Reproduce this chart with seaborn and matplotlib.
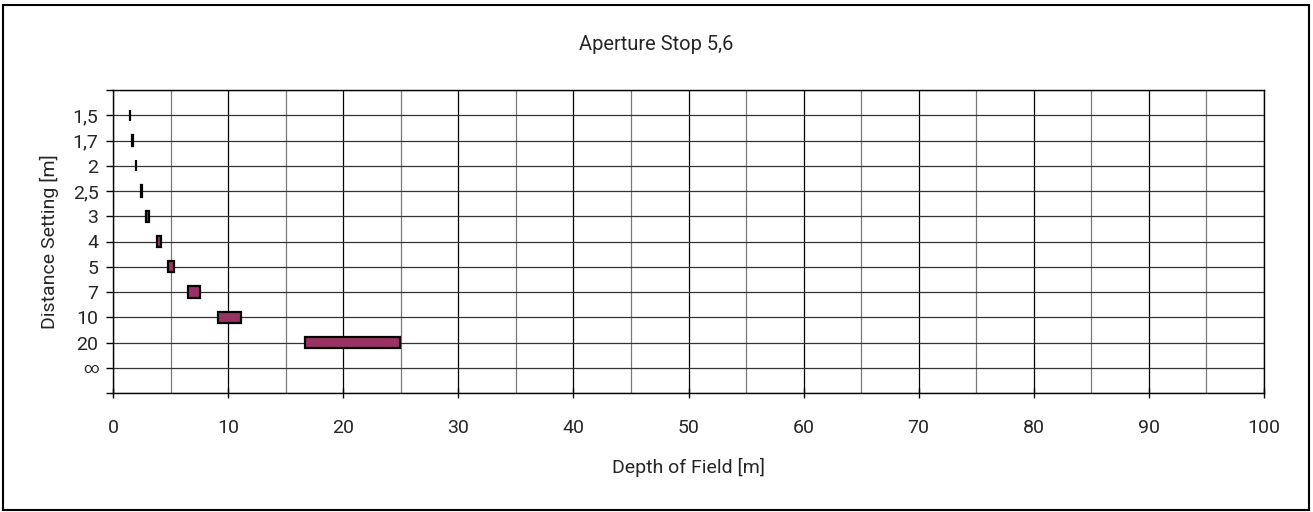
import numpy as np
import matplotlib
matplotlib.use("Agg")
import matplotlib.pyplot as plt
from matplotlib.patches import Rectangle
import seaborn as sns

sns.set_theme(style="white")
plt.rcParams["font.family"] = ["Roboto", "DejaVu Sans"]

# distance settings (row labels) and depth-of-field limits
distance_labels = ["1,5", "1,7", "2", "2,5", "3", "4", "5", "7", "10", "20", "∞"]
near_limit = [1.48, 1.67, 1.96, 2.44, 2.91, 3.85, 4.76, 6.55, 9.10, 16.7, np.nan]
far_limit = [1.52, 1.73, 2.04, 2.56, 3.09, 4.16, 5.26, 7.52, 11.10, 24.9, np.nan]

BAR_COLOR = "#993366"
FS = 14


def main():
    fig = plt.figure(figsize=(13.13, 5.12), dpi=100)
    ax = fig.add_axes([113 / 1313, 1 - 393 / 512, (1264 - 113) / 1313, (393 - 90) / 512])

    rows = np.arange(1, len(distance_labels) + 1)
    widths = np.array(far_limit) - np.array(near_limit)
    ax.barh(rows, widths, left=near_limit, height=0.44, color=BAR_COLOR,
            edgecolor="black", linewidth=1.6, zorder=3)

    ax.set_xlim(0, 100)
    ax.set_ylim(12, 0)
    ax.set_xticks(np.arange(0, 101, 10))
    ax.set_xticks(np.arange(5, 100, 10), minor=True)
    ax.set_yticks(np.arange(0, 13))
    ax.set_yticklabels([""] + distance_labels + [""])

    ax.grid(True, which="major", axis="x", color="black", linewidth=0.9, zorder=0)
    ax.grid(True, which="minor", axis="x", color="#7a7a7a", linewidth=0.9, zorder=0)
    ax.grid(True, which="major", axis="y", color="#333333", linewidth=0.9, zorder=0)

    for side in ax.spines.values():
        side.set_color("black")
        side.set_linewidth(1.0)

    ax.tick_params(axis="x", which="major", direction="inout", length=7, width=1,
                   color="black", labelsize=FS, pad=15, bottom=True)
    ax.tick_params(axis="x", which="minor", length=0)
    ax.tick_params(axis="y", direction="out", length=5, width=1, color="black",
                   labelsize=FS, pad=5.5, left=True)
    # the infinity sign is drawn smaller in the original
    ax.get_yticklabels()[11].set_fontsize(11)

    ax.set_xlabel("Depth of Field [m]", fontsize=FS, labelpad=15)
    ax.set_ylabel("Distance Setting [m]", fontsize=FS, labelpad=10)
    fig.text(0.5, 1 - 45 / 512, "Aperture Stop 5,6", ha="center", va="center",
             fontsize=14.5)

    fig.patches.append(Rectangle((3 / 1313, 2 / 512), 1306 / 1313, 505 / 512,
                                 transform=fig.transFigure, fill=False,
                                 edgecolor="black", linewidth=1.5))

    fig.savefig("out.png", dpi=100, facecolor="white")


if __name__ == "__main__":
    main()
